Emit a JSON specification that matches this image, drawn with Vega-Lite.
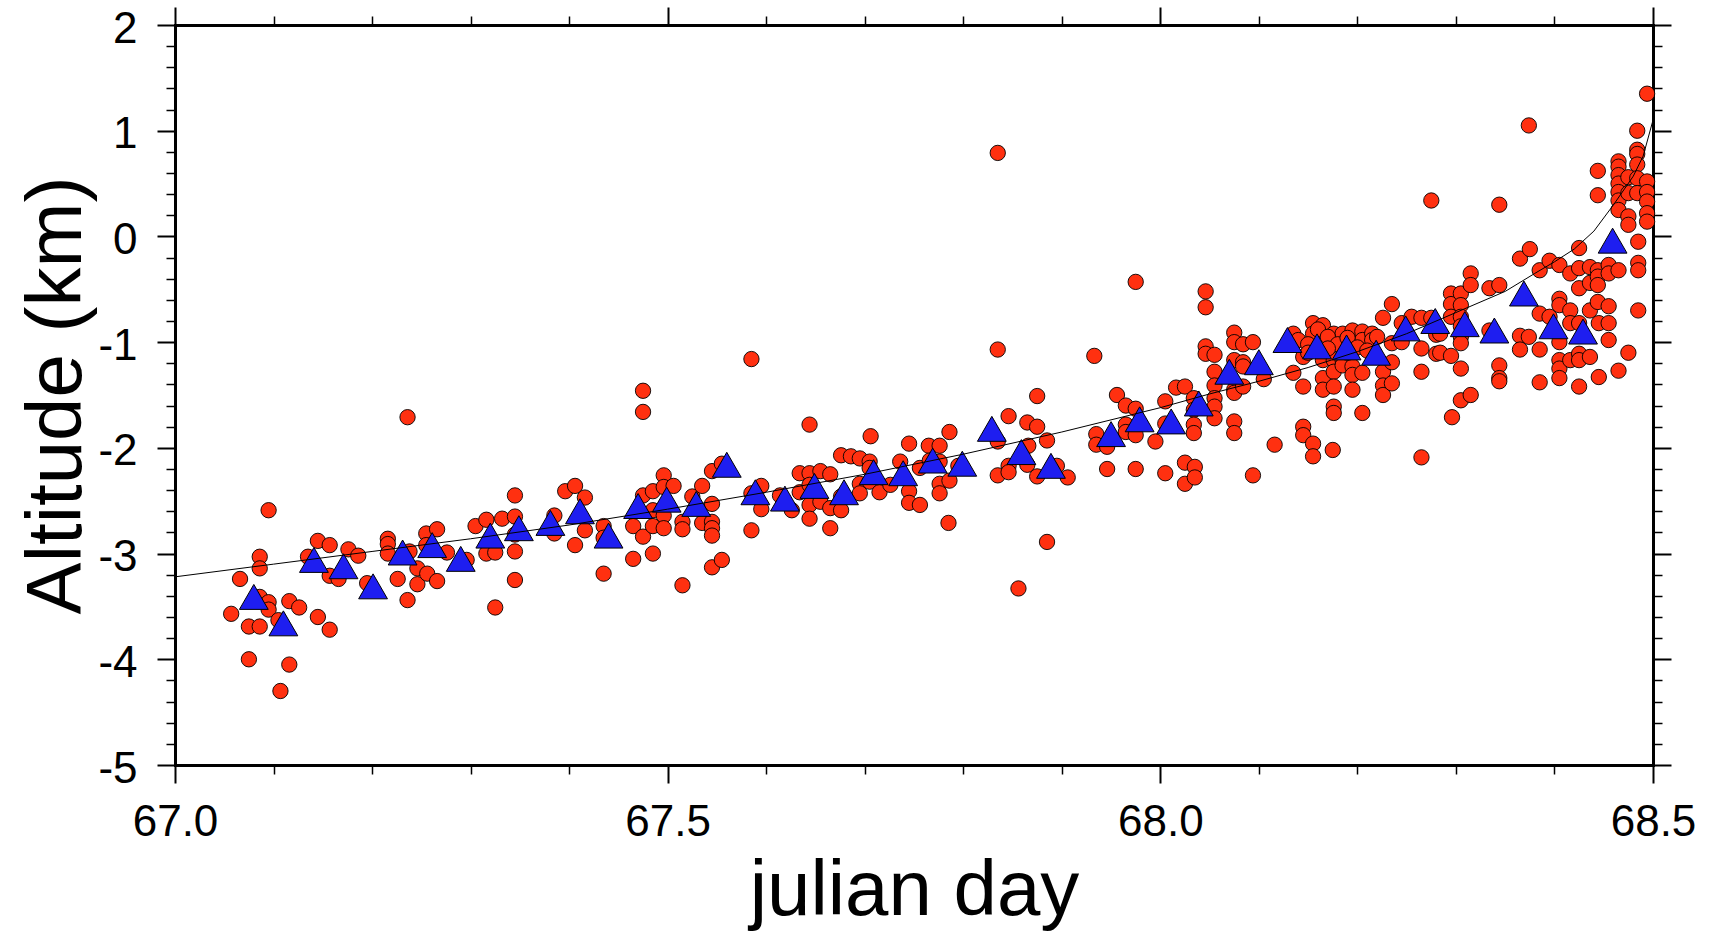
{
  "$schema": "https://vega.github.io/schema/vega-lite/v6.json",
  "width": 1478,
  "height": 740,
  "autosize": {"type": "none"},
  "padding": {"left": 175, "top": 25, "right": 62, "bottom": 168},
  "background": "white",
  "config": {
    "font": "Liberation Sans",
    "view": {"stroke": null},
    "axis": {"grid": false, "tickColor": "black", "domainColor": "black", "labelColor": "black", "titleColor": "black", "labelFont": "Liberation Sans", "titleFont": "Liberation Sans", "titleFontWeight": "normal"}
  },
  "datasets": {
    "fit": [
      {"t": 67.00, "alt": -3.22}, {"t": 67.10, "alt": -3.10}, {"t": 67.20, "alt": -2.98}, {"t": 67.30, "alt": -2.86},
      {"t": 67.40, "alt": -2.73}, {"t": 67.50, "alt": -2.58}, {"t": 67.60, "alt": -2.42}, {"t": 67.70, "alt": -2.25},
      {"t": 67.80, "alt": -2.06}, {"t": 67.90, "alt": -1.85}, {"t": 68.00, "alt": -1.62}, {"t": 68.05, "alt": -1.49},
      {"t": 68.10, "alt": -1.37}, {"t": 68.15, "alt": -1.24}, {"t": 68.20, "alt": -1.09}, {"t": 68.25, "alt": -0.92},
      {"t": 68.30, "alt": -0.72}, {"t": 68.35, "alt": -0.52}, {"t": 68.38, "alt": -0.35}, {"t": 68.40, "alt": -0.24},
      {"t": 68.42, "alt": -0.12}, {"t": 68.44, "alt": 0.05}, {"t": 68.46, "alt": 0.30}, {"t": 68.48, "alt": 0.57},
      {"t": 68.49, "alt": 0.76}, {"t": 68.50, "alt": 1.10}
    ],
    "tri": [
      {"t": 67.080, "alt": -3.41}, {"t": 67.110, "alt": -3.66}, {"t": 67.141, "alt": -3.06}, {"t": 67.171, "alt": -3.12},
      {"t": 67.201, "alt": -3.31}, {"t": 67.231, "alt": -2.99}, {"t": 67.261, "alt": -2.92}, {"t": 67.290, "alt": -3.05},
      {"t": 67.320, "alt": -2.83}, {"t": 67.349, "alt": -2.76}, {"t": 67.381, "alt": -2.71}, {"t": 67.411, "alt": -2.60},
      {"t": 67.440, "alt": -2.83}, {"t": 67.470, "alt": -2.55}, {"t": 67.499, "alt": -2.49}, {"t": 67.529, "alt": -2.53},
      {"t": 67.560, "alt": -2.16}, {"t": 67.589, "alt": -2.42}, {"t": 67.619, "alt": -2.48}, {"t": 67.649, "alt": -2.36},
      {"t": 67.679, "alt": -2.42}, {"t": 67.709, "alt": -2.23}, {"t": 67.739, "alt": -2.24}, {"t": 67.769, "alt": -2.12},
      {"t": 67.799, "alt": -2.15}, {"t": 67.829, "alt": -1.82}, {"t": 67.859, "alt": -2.04}, {"t": 67.889, "alt": -2.17},
      {"t": 67.950, "alt": -1.87}, {"t": 67.979, "alt": -1.73}, {"t": 68.011, "alt": -1.75}, {"t": 68.039, "alt": -1.58},
      {"t": 68.070, "alt": -1.28}, {"t": 68.100, "alt": -1.19}, {"t": 68.129, "alt": -0.98}, {"t": 68.159, "alt": -1.04},
      {"t": 68.189, "alt": -1.05}, {"t": 68.219, "alt": -1.10}, {"t": 68.249, "alt": -0.87}, {"t": 68.279, "alt": -0.80},
      {"t": 68.309, "alt": -0.83}, {"t": 68.339, "alt": -0.89}, {"t": 68.369, "alt": -0.54}, {"t": 68.399, "alt": -0.85},
      {"t": 68.429, "alt": -0.90}, {"t": 68.459, "alt": -0.04}
    ],
    "quakes": [
      {"t": 67.057, "alt": -3.57}, {"t": 67.066, "alt": -3.24}, {"t": 67.075, "alt": -3.69}, {"t": 67.075, "alt": -4.00},
      {"t": 67.086, "alt": -3.03}, {"t": 67.086, "alt": -3.14}, {"t": 67.086, "alt": -3.69}, {"t": 67.086, "alt": -3.41},
      {"t": 67.095, "alt": -2.59}, {"t": 67.095, "alt": -3.46}, {"t": 67.095, "alt": -3.53}, {"t": 67.105, "alt": -3.63},
      {"t": 67.107, "alt": -4.30}, {"t": 67.116, "alt": -4.05}, {"t": 67.116, "alt": -3.45}, {"t": 67.126, "alt": -3.51},
      {"t": 67.135, "alt": -3.03}, {"t": 67.145, "alt": -2.88}, {"t": 67.145, "alt": -3.60}, {"t": 67.157, "alt": -2.92},
      {"t": 67.157, "alt": -3.21}, {"t": 67.157, "alt": -3.72}, {"t": 67.166, "alt": -3.24}, {"t": 67.176, "alt": -2.96},
      {"t": 67.186, "alt": -3.02}, {"t": 67.195, "alt": -3.28}, {"t": 67.216, "alt": -2.86}, {"t": 67.216, "alt": -2.91},
      {"t": 67.216, "alt": -3.00}, {"t": 67.226, "alt": -3.24}, {"t": 67.236, "alt": -1.71}, {"t": 67.236, "alt": -3.44},
      {"t": 67.238, "alt": -2.98}, {"t": 67.246, "alt": -3.14}, {"t": 67.246, "alt": -3.29}, {"t": 67.256, "alt": -3.19},
      {"t": 67.266, "alt": -3.26}, {"t": 67.255, "alt": -2.81}, {"t": 67.266, "alt": -2.77}, {"t": 67.255, "alt": -2.92},
      {"t": 67.276, "alt": -2.99}, {"t": 67.296, "alt": -3.06}, {"t": 67.305, "alt": -2.74}, {"t": 67.316, "alt": -2.68},
      {"t": 67.316, "alt": -3.00}, {"t": 67.325, "alt": -2.99}, {"t": 67.325, "alt": -3.51}, {"t": 67.332, "alt": -2.67},
      {"t": 67.345, "alt": -2.45}, {"t": 67.345, "alt": -2.65}, {"t": 67.345, "alt": -2.82}, {"t": 67.345, "alt": -2.98},
      {"t": 67.345, "alt": -3.25}, {"t": 67.385, "alt": -2.64}, {"t": 67.385, "alt": -2.81}, {"t": 67.396, "alt": -2.41},
      {"t": 67.406, "alt": -2.36}, {"t": 67.416, "alt": -2.47}, {"t": 67.416, "alt": -2.78}, {"t": 67.406, "alt": -2.92},
      {"t": 67.435, "alt": -2.74}, {"t": 67.435, "alt": -2.85}, {"t": 67.435, "alt": -3.19}, {"t": 67.465, "alt": -2.74},
      {"t": 67.465, "alt": -3.05}, {"t": 67.475, "alt": -2.45}, {"t": 67.475, "alt": -2.84}, {"t": 67.475, "alt": -1.46},
      {"t": 67.475, "alt": -1.66}, {"t": 67.485, "alt": -2.41}, {"t": 67.485, "alt": -2.59}, {"t": 67.485, "alt": -2.74},
      {"t": 67.485, "alt": -3.00}, {"t": 67.496, "alt": -2.26}, {"t": 67.496, "alt": -2.37}, {"t": 67.496, "alt": -2.64},
      {"t": 67.496, "alt": -2.76}, {"t": 67.506, "alt": -2.36}, {"t": 67.515, "alt": -2.70}, {"t": 67.515, "alt": -2.77},
      {"t": 67.515, "alt": -3.30}, {"t": 67.525, "alt": -2.46}, {"t": 67.535, "alt": -2.36}, {"t": 67.535, "alt": -2.71},
      {"t": 67.545, "alt": -2.22}, {"t": 67.545, "alt": -2.53}, {"t": 67.545, "alt": -2.70}, {"t": 67.545, "alt": -2.76},
      {"t": 67.545, "alt": -2.83}, {"t": 67.545, "alt": -3.13}, {"t": 67.555, "alt": -3.06}, {"t": 67.555, "alt": -2.15},
      {"t": 67.585, "alt": -1.16}, {"t": 67.585, "alt": -2.78}, {"t": 67.585, "alt": -2.43}, {"t": 67.595, "alt": -2.36},
      {"t": 67.595, "alt": -2.58}, {"t": 67.614, "alt": -2.45}, {"t": 67.626, "alt": -2.59}, {"t": 67.634, "alt": -2.24},
      {"t": 67.634, "alt": -2.42}, {"t": 67.644, "alt": -1.78}, {"t": 67.644, "alt": -2.24}, {"t": 67.644, "alt": -2.35},
      {"t": 67.644, "alt": -2.54}, {"t": 67.644, "alt": -2.67}, {"t": 67.655, "alt": -2.22}, {"t": 67.655, "alt": -2.51},
      {"t": 67.665, "alt": -2.25}, {"t": 67.665, "alt": -2.57}, {"t": 67.665, "alt": -2.76}, {"t": 67.676, "alt": -2.07},
      {"t": 67.676, "alt": -2.46}, {"t": 67.676, "alt": -2.59}, {"t": 67.686, "alt": -2.08}, {"t": 67.695, "alt": -2.10},
      {"t": 67.695, "alt": -2.34}, {"t": 67.695, "alt": -2.43}, {"t": 67.705, "alt": -2.13}, {"t": 67.705, "alt": -2.19},
      {"t": 67.705, "alt": -2.32}, {"t": 67.706, "alt": -1.89}, {"t": 67.715, "alt": -2.42}, {"t": 67.726, "alt": -2.35},
      {"t": 67.736, "alt": -2.13}, {"t": 67.745, "alt": -1.96}, {"t": 67.745, "alt": -2.41}, {"t": 67.745, "alt": -2.52},
      {"t": 67.756, "alt": -2.19}, {"t": 67.756, "alt": -2.54}, {"t": 67.765, "alt": -1.98}, {"t": 67.766, "alt": -2.12},
      {"t": 67.776, "alt": -1.98}, {"t": 67.776, "alt": -2.13}, {"t": 67.776, "alt": -2.34}, {"t": 67.776, "alt": -2.43},
      {"t": 67.785, "alt": -2.71}, {"t": 67.786, "alt": -1.85}, {"t": 67.786, "alt": -2.31}, {"t": 67.795, "alt": -2.17},
      {"t": 67.835, "alt": 0.79}, {"t": 67.835, "alt": -1.07}, {"t": 67.835, "alt": -1.94}, {"t": 67.835, "alt": -2.26},
      {"t": 67.846, "alt": -1.70}, {"t": 67.846, "alt": -2.17}, {"t": 67.846, "alt": -2.23}, {"t": 67.856, "alt": -3.33},
      {"t": 67.865, "alt": -1.76}, {"t": 67.865, "alt": -2.16}, {"t": 67.866, "alt": -1.98}, {"t": 67.875, "alt": -1.51},
      {"t": 67.875, "alt": -1.80}, {"t": 67.875, "alt": -2.27}, {"t": 67.885, "alt": -1.93}, {"t": 67.885, "alt": -2.89},
      {"t": 67.895, "alt": -2.17}, {"t": 67.906, "alt": -2.28}, {"t": 67.933, "alt": -1.13}, {"t": 67.935, "alt": -1.87},
      {"t": 67.935, "alt": -1.97}, {"t": 67.946, "alt": -1.99}, {"t": 67.946, "alt": -2.20}, {"t": 67.956, "alt": -1.50},
      {"t": 67.965, "alt": -1.60}, {"t": 67.965, "alt": -1.78}, {"t": 67.965, "alt": -1.85}, {"t": 67.975, "alt": -0.43},
      {"t": 67.975, "alt": -1.63}, {"t": 67.975, "alt": -1.88}, {"t": 67.975, "alt": -2.20}, {"t": 67.995, "alt": -1.94},
      {"t": 68.005, "alt": -1.56}, {"t": 68.005, "alt": -1.77}, {"t": 68.005, "alt": -2.24}, {"t": 68.016, "alt": -1.43},
      {"t": 68.025, "alt": -1.42}, {"t": 68.025, "alt": -2.14}, {"t": 68.025, "alt": -2.34}, {"t": 68.034, "alt": -1.53},
      {"t": 68.034, "alt": -1.64}, {"t": 68.034, "alt": -1.78}, {"t": 68.034, "alt": -1.86}, {"t": 68.035, "alt": -2.18},
      {"t": 68.035, "alt": -2.28}, {"t": 68.046, "alt": -0.52}, {"t": 68.046, "alt": -0.67}, {"t": 68.046, "alt": -1.04},
      {"t": 68.046, "alt": -1.11}, {"t": 68.055, "alt": -1.12}, {"t": 68.055, "alt": -1.28}, {"t": 68.055, "alt": -1.41},
      {"t": 68.055, "alt": -1.53}, {"t": 68.055, "alt": -1.61}, {"t": 68.055, "alt": -1.72}, {"t": 68.075, "alt": -0.91},
      {"t": 68.075, "alt": -1.00}, {"t": 68.075, "alt": -1.17}, {"t": 68.075, "alt": -1.45}, {"t": 68.075, "alt": -1.48},
      {"t": 68.075, "alt": -1.75}, {"t": 68.075, "alt": -1.86}, {"t": 68.084, "alt": -1.02}, {"t": 68.084, "alt": -1.19},
      {"t": 68.084, "alt": -1.23}, {"t": 68.084, "alt": -1.42}, {"t": 68.094, "alt": -1.00}, {"t": 68.094, "alt": -2.26},
      {"t": 68.105, "alt": -1.35}, {"t": 68.116, "alt": -1.97}, {"t": 68.135, "alt": -0.92}, {"t": 68.135, "alt": -1.29},
      {"t": 68.145, "alt": -1.14}, {"t": 68.145, "alt": -1.42}, {"t": 68.145, "alt": -1.80}, {"t": 68.145, "alt": -1.88},
      {"t": 68.155, "alt": -0.82}, {"t": 68.155, "alt": -0.92}, {"t": 68.155, "alt": -1.96}, {"t": 68.155, "alt": -2.08},
      {"t": 68.165, "alt": -0.84}, {"t": 68.165, "alt": -1.17}, {"t": 68.165, "alt": -1.34}, {"t": 68.165, "alt": -1.45},
      {"t": 68.176, "alt": -0.92}, {"t": 68.176, "alt": -1.17}, {"t": 68.176, "alt": -1.28}, {"t": 68.176, "alt": -1.42},
      {"t": 68.176, "alt": -1.61}, {"t": 68.176, "alt": -1.67}, {"t": 68.175, "alt": -2.02}, {"t": 68.185, "alt": -0.92},
      {"t": 68.185, "alt": -1.17}, {"t": 68.185, "alt": -1.22}, {"t": 68.195, "alt": -0.89}, {"t": 68.195, "alt": -1.23},
      {"t": 68.195, "alt": -1.31}, {"t": 68.195, "alt": -1.45}, {"t": 68.205, "alt": -0.90}, {"t": 68.205, "alt": -0.98},
      {"t": 68.205, "alt": -1.29}, {"t": 68.205, "alt": -1.67}, {"t": 68.215, "alt": -0.92}, {"t": 68.215, "alt": -0.98},
      {"t": 68.140, "alt": -0.98}, {"t": 68.150, "alt": -1.02}, {"t": 68.160, "alt": -0.88}, {"t": 68.170, "alt": -0.95},
      {"t": 68.180, "alt": -1.02}, {"t": 68.190, "alt": -0.96}, {"t": 68.200, "alt": -1.05}, {"t": 68.210, "alt": -1.08},
      {"t": 68.220, "alt": -0.95}, {"t": 68.150, "alt": -1.10}, {"t": 68.170, "alt": -1.06}, {"t": 68.190, "alt": -1.10},
      {"t": 68.226, "alt": -0.77}, {"t": 68.226, "alt": -1.28}, {"t": 68.226, "alt": -1.41}, {"t": 68.226, "alt": -1.50},
      {"t": 68.235, "alt": -0.64}, {"t": 68.235, "alt": -1.01}, {"t": 68.235, "alt": -1.19}, {"t": 68.235, "alt": -1.39},
      {"t": 68.245, "alt": -0.82}, {"t": 68.245, "alt": -1.00}, {"t": 68.255, "alt": -0.76}, {"t": 68.265, "alt": -0.77},
      {"t": 68.265, "alt": -1.06}, {"t": 68.265, "alt": -1.28}, {"t": 68.265, "alt": -2.09}, {"t": 68.275, "alt": 0.34},
      {"t": 68.275, "alt": -0.77}, {"t": 68.280, "alt": -0.93}, {"t": 68.280, "alt": -1.11}, {"t": 68.284, "alt": -0.92},
      {"t": 68.284, "alt": -1.10}, {"t": 68.295, "alt": -0.54}, {"t": 68.295, "alt": -0.64}, {"t": 68.295, "alt": -0.76},
      {"t": 68.295, "alt": -1.13}, {"t": 68.296, "alt": -1.71}, {"t": 68.305, "alt": -0.54}, {"t": 68.305, "alt": -0.65},
      {"t": 68.305, "alt": -0.76}, {"t": 68.305, "alt": -0.85}, {"t": 68.305, "alt": -0.95}, {"t": 68.305, "alt": -1.01},
      {"t": 68.305, "alt": -1.25}, {"t": 68.305, "alt": -1.55}, {"t": 68.315, "alt": -0.35}, {"t": 68.315, "alt": -0.46},
      {"t": 68.315, "alt": -1.50}, {"t": 68.334, "alt": -0.49}, {"t": 68.334, "alt": -0.89}, {"t": 68.344, "alt": 0.30},
      {"t": 68.344, "alt": -0.46}, {"t": 68.344, "alt": -1.22}, {"t": 68.344, "alt": -1.34}, {"t": 68.344, "alt": -1.37},
      {"t": 68.365, "alt": -0.21}, {"t": 68.365, "alt": -0.94}, {"t": 68.365, "alt": -1.07}, {"t": 68.374, "alt": 1.05},
      {"t": 68.374, "alt": -0.95}, {"t": 68.375, "alt": -0.12}, {"t": 68.385, "alt": -0.32}, {"t": 68.385, "alt": -0.73},
      {"t": 68.385, "alt": -1.07}, {"t": 68.385, "alt": -1.38}, {"t": 68.395, "alt": -0.23}, {"t": 68.395, "alt": -0.76},
      {"t": 68.405, "alt": -0.27}, {"t": 68.405, "alt": -0.59}, {"t": 68.405, "alt": -0.65}, {"t": 68.405, "alt": -1.00},
      {"t": 68.405, "alt": -1.17}, {"t": 68.405, "alt": -1.25}, {"t": 68.405, "alt": -1.34}, {"t": 68.416, "alt": -0.35},
      {"t": 68.416, "alt": -0.70}, {"t": 68.416, "alt": -0.82}, {"t": 68.416, "alt": -1.17}, {"t": 68.425, "alt": -0.11},
      {"t": 68.425, "alt": -0.30}, {"t": 68.425, "alt": -0.49}, {"t": 68.425, "alt": -0.82}, {"t": 68.425, "alt": -1.11},
      {"t": 68.425, "alt": -1.17}, {"t": 68.425, "alt": -1.42}, {"t": 68.436, "alt": -0.29}, {"t": 68.436, "alt": -0.44},
      {"t": 68.436, "alt": -0.70}, {"t": 68.436, "alt": -1.14}, {"t": 68.444, "alt": 0.62}, {"t": 68.444, "alt": 0.39},
      {"t": 68.444, "alt": -0.32}, {"t": 68.444, "alt": -0.38}, {"t": 68.444, "alt": -0.46}, {"t": 68.444, "alt": -0.62},
      {"t": 68.445, "alt": -0.82}, {"t": 68.445, "alt": -1.33}, {"t": 68.455, "alt": -0.27}, {"t": 68.455, "alt": -0.35},
      {"t": 68.455, "alt": -0.66}, {"t": 68.455, "alt": -0.82}, {"t": 68.455, "alt": -0.98}, {"t": 68.465, "alt": 0.71},
      {"t": 68.465, "alt": 0.66}, {"t": 68.465, "alt": 0.58}, {"t": 68.465, "alt": 0.50}, {"t": 68.465, "alt": 0.42},
      {"t": 68.465, "alt": 0.34}, {"t": 68.465, "alt": 0.25}, {"t": 68.465, "alt": -0.32}, {"t": 68.465, "alt": -1.27},
      {"t": 68.475, "alt": 0.56}, {"t": 68.475, "alt": 0.41}, {"t": 68.475, "alt": 0.19}, {"t": 68.475, "alt": 0.11},
      {"t": 68.475, "alt": -1.10}, {"t": 68.484, "alt": 1.00}, {"t": 68.484, "alt": 0.82}, {"t": 68.484, "alt": 0.78},
      {"t": 68.484, "alt": 0.68}, {"t": 68.484, "alt": 0.55}, {"t": 68.484, "alt": 0.41}, {"t": 68.485, "alt": -0.05},
      {"t": 68.485, "alt": -0.25}, {"t": 68.485, "alt": -0.32}, {"t": 68.485, "alt": -0.70}, {"t": 68.494, "alt": 1.35},
      {"t": 68.494, "alt": 0.52}, {"t": 68.494, "alt": 0.42}, {"t": 68.494, "alt": 0.33}, {"t": 68.494, "alt": 0.22},
      {"t": 68.494, "alt": 0.14}
    ]
  },
  "resolve": {"axis": {"x": "independent", "y": "independent"}},
  "layer": [
    {
      "data": {"name": "quakes"},
      "mark": {"type": "point", "shape": "circle", "filled": true, "fill": "#ff3010", "stroke": "black", "strokeWidth": 0.9, "size": 235, "opacity": 1},
      "encoding": {
        "x": {"field": "t", "type": "quantitative", "scale": {"domain": [67, 68.5], "nice": false, "zero": false},
          "axis": {"orient": "bottom", "values": [67.1, 67.2, 67.3, 67.4, 67.6, 67.7, 67.8, 67.9, 68.1, 68.2, 68.3, 68.4], "tickSize": 9, "tickWidth": 1.5, "domain": false, "labels": false, "title": null}},
        "y": {"field": "alt", "type": "quantitative", "scale": {"domain": [-5, 2], "nice": false, "zero": false},
          "axis": {"orient": "left", "values": [-4.8, -4.6, -4.4, -4.2, -3.8, -3.6, -3.4, -3.2, -2.8, -2.6, -2.4, -2.2, -1.8, -1.6, -1.4, -1.2, -0.8, -0.6, -0.4, -0.2, 0.2, 0.4, 0.6, 0.8, 1.2, 1.4, 1.6, 1.8], "tickSize": 9, "tickWidth": 1.5, "domain": false, "labels": false, "title": null}}
      }
    },
    {
      "data": {"name": "tri"},
      "mark": {"type": "point", "shape": "triangle-up", "filled": true, "fill": "#1e1ef0", "stroke": "black", "strokeWidth": 1, "size": 830, "opacity": 1},
      "encoding": {
        "x": {"field": "t", "type": "quantitative", "scale": {"domain": [67, 68.5], "nice": false, "zero": false},
          "axis": {"orient": "top", "values": [67, 67.5, 68, 68.5], "tickSize": 18, "tickWidth": 2, "domain": true, "domainWidth": 3, "domainCap": "square", "labels": false, "title": null}},
        "y": {"field": "alt", "type": "quantitative", "scale": {"domain": [-5, 2], "nice": false, "zero": false},
          "axis": {"orient": "right", "values": [-5, -4, -3, -2, -1, 0, 1, 2], "tickSize": 18, "tickWidth": 2, "domain": true, "domainWidth": 3, "domainCap": "square", "labels": false, "title": null}}
      }
    },
    {
      "data": {"name": "fit"},
      "transform": [{"filter": "datum.t <= 68.0"}],
      "mark": {"type": "line", "color": "black", "strokeWidth": 1},
      "encoding": {
        "x": {"field": "t", "type": "quantitative", "scale": {"domain": [67, 68.5], "nice": false, "zero": false},
          "axis": {"orient": "top", "values": [67.1, 67.2, 67.3, 67.4, 67.6, 67.7, 67.8, 67.9, 68.1, 68.2, 68.3, 68.4], "tickSize": 9, "tickWidth": 1.5, "domain": false, "labels": false, "title": null}},
        "y": {"field": "alt", "type": "quantitative", "scale": {"domain": [-5, 2], "nice": false, "zero": false},
          "axis": {"orient": "right", "values": [-4.8, -4.6, -4.4, -4.2, -3.8, -3.6, -3.4, -3.2, -2.8, -2.6, -2.4, -2.2, -1.8, -1.6, -1.4, -1.2, -0.8, -0.6, -0.4, -0.2, 0.2, 0.4, 0.6, 0.8, 1.2, 1.4, 1.6, 1.8], "tickSize": 9, "tickWidth": 1.5, "domain": false, "labels": false, "title": null}}
      }
    },
    {
      "data": {"name": "fit"},
      "transform": [{"filter": "datum.t >= 68.0"}],
      "mark": {"type": "line", "color": "black", "strokeWidth": 1},
      "encoding": {
        "x": {"field": "t", "type": "quantitative", "scale": {"domain": [67, 68.5], "nice": false, "zero": false},
          "axis": {"orient": "bottom", "values": [67, 67.5, 68, 68.5], "tickSize": 18, "tickWidth": 2, "domain": true, "domainWidth": 3, "domainCap": "square",
            "labels": true, "labelFontSize": 44, "labelPadding": 17, "labelFlush": false, "labelOverlap": false, "format": ".1f",
            "title": "julian day", "titleFontSize": 78, "titleFontWeight": "normal", "titleBaseline": "alphabetic", "titleAlign": "center", "titleX": 739, "titleY": 149}},
        "y": {"field": "alt", "type": "quantitative", "scale": {"domain": [-5, 2], "nice": false, "zero": false},
          "axis": {"orient": "left", "values": [-5, -4, -3, -2, -1, 0, 1, 2], "tickSize": 18, "tickWidth": 2, "domain": true, "domainWidth": 3, "domainCap": "square",
            "labels": true, "labelFontSize": 44, "labelPadding": 20, "labelAlign": "right", "labelBaseline": "alphabetic", "labelOffset": 17, "labelFlush": false, "labelOverlap": false, "labelExpr": "'' + datum.value",
            "title": "Altitude (km)", "titleFontSize": 78, "titleFontWeight": "normal", "titleAngle": -90, "titleBaseline": "alphabetic", "titleAlign": "center", "titleX": -95, "titleY": 370}}
      }
    }
  ]
}
